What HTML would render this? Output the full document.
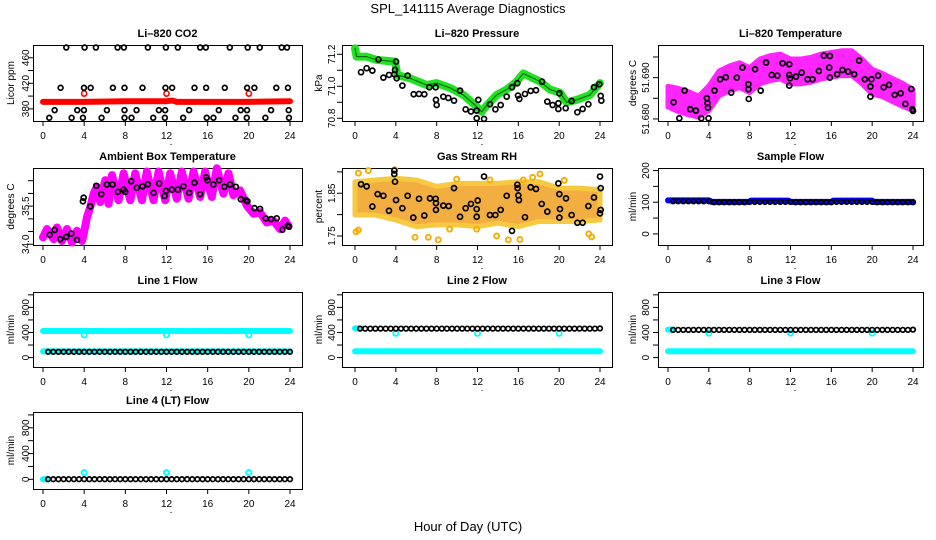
<!DOCTYPE html>
<html><head><meta charset="utf-8">
<style>
html,body{margin:0;padding:0;background:#fff;}
svg{display:block;font-family:"Liberation Sans",Arial,sans-serif;}
</style></head>
<body>
<svg id="chart" width="936" height="540" viewBox="0 0 936 540" xmlns="http://www.w3.org/2000/svg">
<rect x="0" y="0" width="936" height="540" fill="#fff"/>
<text x="468" y="13" text-anchor="middle" font-size="13">SPL_141115  Average Diagnostics</text>
<text x="468" y="531" text-anchor="middle" font-size="13">Hour of Day (UTC)</text>
</svg>
<script>
// ---------- data ----------
const xTicks = [0,4,8,12,16,20,24];

// CO2
const co2BandHours = [0,4,8,12,12.6,13,16,20,24];
const co2BandVals  = [391,391,392,392,393,391,391,391,392];
const co2RedHours = [4,12,20];
const co2RedVals  = [404,404,404];
const co2BlackHours = [2.26,4.04,5.14,7.25,7.86,10.19,11.94,13.1,15.27,15.82,18.15,19.89,21.06,23.19,23.71,
  1.71,3.98,4.63,6.79,7.92,9.67,11.9,12.55,14.72,15.85,17.66,19.83,20.54,22.67,23.8,
  1.13,3.33,3.98,6.21,7.92,9.09,11.26,11.87,14.2,17.08,19.21,19.83,22.16,23.87,
  0.61,2.78,3.88,5.69,7.92,8.6,10.71,11.84,13.62,15.91,16.56,18.7,19.8,21.61,23.9];
const co2BlackVals = [476,476,476,476,476,476,476,476,476,476,476,476,476,476,476,
  413,413,413,413,413,413,413,413,413,413,413,413,413,413,413,
  378,378,378,378,378,378,378,378,378,378,378,378,378,378,
  366,366,366,366,366,366,366,366,366,366,366,366,366,366,366];
const co2Ticks = [380,400,420,440,460];
const co2Labels = [380,420,460];

// Pressure
const presBandHours = [0,0.16,1.14,2.12,3.92,4.15,5.39,7.02,8.0,9.31,10.61,11.92,12.41,12.9,13.88,14.86,15.84,16.49,17.14,18.12,19.1,20.08,20.73,21.71,23.02,24];
const presBandVals  = [71.237,71.185,71.185,71.165,71.154,71.07,71.05,71.008,71.02,70.99,70.946,70.873,70.84,70.88,70.946,70.98,71.03,71.08,71.06,71.03,70.98,70.96,70.9,70.915,70.946,71.02];
const presBlackHours = [0.59,1.14,1.70,2.29,2.78,3.33,3.85,4.02,3.92,4.08,4.64,5.16,5.75,6.27,6.79,7.28,7.9,7.93,8.0,8.65,9.14,9.7,10.29,10.84,11.36,11.92,11.92,12.08,12.64,13.22,13.75,14.27,14.86,15.38,15.9,15.97,16.1,16.65,17.21,17.73,18.32,18.84,19.36,19.92,20.02,19.92,20.64,21.22,21.78,22.3,22.86,23.41,23.93,24.07,24.13];
const presBlackVals = [71.088,71.113,71.098,71.167,71.054,71.071,71.075,71.154,71.102,71.05,71.004,71.067,70.95,70.952,70.95,70.994,70.994,70.915,70.883,70.935,70.927,70.91,70.973,70.856,70.842,70.848,70.8,70.915,70.796,70.888,70.856,70.883,70.935,70.994,71.019,70.942,70.921,70.952,70.971,70.975,71.029,70.904,70.883,70.894,70.956,70.858,70.863,70.908,70.838,70.858,70.888,70.994,71.013,70.94,70.91];
const presTicks = [70.8,70.9,71.0,71.1,71.2];
const presLabels = ["70.8","71.0","71.2"];

// Li-820 temperature
const tempMagHours = [0,1,2,3,4,5,6,7,8,9,10,11,12,13,14,15,16,17,18,19,20,21,22,23,24];
const tempMagMid = [51.6854,51.6846,51.6838,51.683,51.685,51.6886,51.6898,51.6906,51.6894,51.6915,51.6923,51.6927,51.6915,51.6915,51.6919,51.6927,51.6931,51.6935,51.6935,51.6915,51.689,51.6882,51.687,51.6858,51.6846];
const tempMagSpread = [0.0025,0.0028,0.0028,0.0025,0.003,0.003,0.003,0.003,0.003,0.003,0.003,0.003,0.003,0.003,0.003,0.003,0.003,0.003,0.003,0.003,0.003,0.0028,0.0028,0.0028,0.0025];
const tempBlackHours = [0.55,1.63,1.11,2.18,2.73,3.26,3.81,3.87,3.91,3.97,4.56,5.11,5.67,6.19,6.74,7.29,7.88,7.88,7.91,8.53,9.08,9.61,10.16,10.71,11.23,11.88,11.88,11.95,11.88,12.54,13.09,13.68,14.16,14.78,15.27,15.86,15.79,15.86,16.57,17.09,17.65,18.24,18.72,19.28,19.83,19.93,19.83,20.58,21.13,21.65,22.21,22.79,23.25,23.83,23.93,24.0];
const tempBlackVals = [51.68403,51.68685,51.68016,51.68234,51.68202,51.68016,51.6850,51.68379,51.68274,51.68016,51.68685,51.6896,51.69008,51.68637,51.69,51.69242,51.68839,51.68718,51.68484,51.69202,51.68685,51.69363,51.69065,51.69048,51.69347,51.69323,51.69065,51.68984,51.68806,51.69024,51.69121,51.6896,51.6896,51.69161,51.69532,51.69524,51.69242,51.69,51.69081,51.69185,51.69145,51.69081,51.69411,51.6896,51.68782,51.6896,51.6854,51.69048,51.68766,51.68823,51.68581,51.68621,51.68363,51.68726,51.68234,51.68194];
const tempTicks = [51.680,51.685,51.690,51.695];
const tempLabels = ["51.680","51.690"];

// Ambient box temperature
const ambMagHours = [0,0.39,1.04,1.36,1.84,2.33,2.81,3.30,3.79,3.95,4.27,4.59,4.92,5.24,5.56,6.05,6.37,6.70,7.34,7.83,8.48,8.96,9.61,10.09,10.74,11.23,11.87,12.36,13.0,13.49,14.14,14.62,15.27,15.75,16.40,16.89,17.53,18.02,18.50,19.15,19.80,20.45,21.09,21.74,22.39,23.03,23.52,23.84];
const ambMagVals = [34.27,34.60,34.20,34.66,34.13,34.60,34.07,34.53,34.13,34.40,35.06,35.46,35.99,36.26,35.66,36.52,35.59,36.72,35.73,36.79,35.73,36.79,35.73,36.86,35.73,36.86,35.73,36.79,35.79,36.86,35.79,36.86,35.86,36.86,35.86,36.99,35.99,36.79,35.93,36.12,35.53,35.20,35.26,34.86,34.93,34.60,34.93,34.73];
const ambBlackHours = [0.65,1.13,1.68,2.26,2.75,3.30,3.88,3.95,4.59,5.18,5.66,6.21,6.76,7.28,7.83,7.99,8.57,9.12,9.67,10.19,10.74,11.29,11.81,11.94,12.52,13.10,13.65,14.2,14.72,15.27,15.85,15.98,16.56,17.11,17.63,18.18,18.73,19.22,19.73,19.86,20.54,21.09,21.64,22.16,22.71,23.26,23.78,23.91];
const ambBlackVals = [34.37,34.56,34.20,34.29,34.42,34.17,35.69,35.83,35.49,36.30,35.97,36.35,36.35,36.06,36.15,36.06,36.48,36.22,36.28,36.36,36.02,36.39,35.90,36.10,36.15,36.15,36.28,36.02,36.42,35.97,36.63,36.52,36.35,36.52,36.26,36.35,36.26,35.77,35.73,35.69,35.42,35.39,35.02,34.99,35.02,34.57,34.73,34.69];
const ambTicks = [34.0,34.5,35.0,35.5,36.0,36.5];
const ambLabels = ["34.0","35.5"];

// Gas stream RH
const rhBandHours = [0,2,4,6,8,10,12,14,16,18,20,22,24];
const rhBandTop = [1.877,1.881,1.885,1.881,1.866,1.873,1.873,1.873,1.877,1.877,1.862,1.862,1.858];
const rhBandBot = [1.799,1.799,1.7875,1.772,1.776,1.776,1.772,1.780,1.772,1.784,1.784,1.784,1.7875];
const rhScatterHours = [0.33,0.33,1.31,9.96,5.88,7.18,8.16,13.22,13.88,15.02,16.16,17.4,18.12,23.18,16.49,9.27,11.92,0.1,3.9,22.9,20.5];
const rhScatterVals = [1.897,1.764,1.903,1.883,1.747,1.747,1.741,1.881,1.75,1.741,1.742,1.887,1.895,1.748,1.881,1.766,1.766,1.76,1.905,1.755,1.88];
const rhBlackHours = [0.59,1.14,1.70,2.22,2.78,3.33,3.85,3.85,3.92,4.02,4.64,5.16,5.71,6.27,6.79,7.35,7.9,7.93,7.93,8.65,9.18,9.7,10.29,10.84,11.36,11.92,11.92,12.02,12.64,13.22,13.75,14.27,14.86,15.38,15.9,15.93,16.0,16.06,16.65,17.21,17.73,18.29,18.84,19.92,20.02,20.08,20.02,20.67,21.22,21.78,22.3,22.86,23.41,24.0,24.07,24.07,24.0];
const rhBlackVals = [1.871,1.866,1.819,1.848,1.844,1.809,1.903,1.895,1.877,1.834,1.815,1.844,1.793,1.837,1.798,1.838,1.837,1.827,1.811,1.821,1.820,1.862,1.795,1.815,1.825,1.813,1.795,1.833,1.889,1.799,1.799,1.811,1.844,1.762,1.870,1.862,1.845,1.834,1.794,1.864,1.860,1.825,1.807,1.873,1.848,1.813,1.793,1.838,1.799,1.781,1.781,1.820,1.840,1.889,1.862,1.811,1.803];
const rhTicks = [1.75,1.80,1.85,1.90];
const rhLabels = ["1.75","1.85"];

// Sample flow
const sfBandHours = [0,4,4.3,8,8.1,11.8,12,16,16.2,20,20.2,24];
const sfBandVals  = [106,106,101,101,105,105,101,101,105,105,101,101];
const flowHours = [0.5,1,1.5,2,2.5,3,3.5,4,4.5,5,5.5,6,6.5,7,7.5,8,8.5,9,9.5,10,10.5,11,11.5,12,12.5,13,13.5,14,14.5,15,15.5,16,16.5,17,17.5,18,18.5,19,19.5,20,20.5,21,21.5,22,22.5,23,23.5,24];
const sfBlackVals = [103,103,103,103,103,103,103,103,100,100,100,100,100,100,100,101,101,101,101,101,101,101,101,101,100,100,100,100,100,100,100,100,101,101,101,101,101,101,101,101,100,100,100,100,100,100,100,100];
const sfTicks = [0,50,100,150,200];
const sfLabels = [0,100,200];

// Line flows
const flowTicks = [0,200,400,600,800,1000];
const flowLabels = [0,400,800];
const l1CyanHours = [0,24];
const l1CyanHigh = [423,423];
const l1CyanLow = [98,98];
const l1DipHours = [4,12,20];
const l1DipVals = [361,361,361];
const l1BlackVals = [92,92,92,92,92,92,92,92,92,92,92,92,92,92,92,92,92,92,92,92,92,92,92,92,92,92,92,92,92,92,92,92,92,92,92,92,92,92,92,92,92,92,92,92,92,92,92,92];

const l2CyanLowHours = [0,24];
const l2CyanLow = [100,100];
const l2CyanHighHours = [0,0.5];
const l2CyanHigh = [465,465];
const l2DipHours = [4,12,20];
const l2DipVals = [387,387,387];
const l2BlackVals = [462,462,462,462,462,462,462,462,462,462,462,462,462,462,462,462,462,462,462,462,462,462,462,462,462,462,462,462,462,462,462,462,462,462,462,462,462,462,462,462,462,462,462,462,462,462,462,465];

const l3CyanLowHours = [0,24];
const l3CyanLow = [100,100];
const l3CyanHighHours = [0,0.5];
const l3CyanHigh = [445,445];
const l3DipHours = [4,12,20];
const l3DipVals = [390,390,390];
const l3BlackVals = [442,442,442,442,442,442,442,442,442,442,442,442,442,442,442,442,442,442,442,442,442,442,442,442,442,442,442,442,442,442,442,442,442,442,442,442,442,442,442,442,442,442,442,442,442,442,442,445];

const l4CyanHours = [0,0.3];
const l4CyanVals = [2,2];
const l4BumpHours = [4,12,20];
const l4BumpVals = [105,105,105];
const l4BlackVals = [2,2,2,2,2,2,2,2,2,2,2,2,2,2,2,2,2,2,2,2,2,2,2,2,2,2,2,2,2,2,2,2,2,2,2,2,2,2,2,2,2,2,2,2,2,2,2,2];

// ---------- drawing ----------
const NS = "http://www.w3.org/2000/svg";
const svg = document.getElementById("chart");
const colBox = [[33,302,43,290],[342,612,355,600],[658,923,668,913]];
const rowBox = [[45,121],[168,245],[292,367],[412,489]];
const yLabX = [[10,25],[318,331],[632,645]];

function mk(tag, parent){ const e=document.createElementNS(NS,tag); (parent||svg).appendChild(e); return e; }

function panel(name, col, row, title, ylab, ymin, ymax, ticks, labels){
  const [bl,br,x0,x24] = colBox[col];
  const [bt,bb] = rowBox[row];
  const g = mk("g");
  
  
  const X = h => x0 + (h/24)*(x24-x0);
  const Y = v => bb - (v-ymin)/(ymax-ymin)*(bb-bt);
  const p = {g, X, Y, bl, br, bt, bb, name};
  const box = mk("rect", g);
  
  
  box.setAttribute("x", bl+0.5); box.setAttribute("y", bt+0.5);
  box.setAttribute("width", br-bl); box.setAttribute("height", bb-bt);
  box.setAttribute("fill","none"); box.setAttribute("stroke","#000");
  const t = mk("text", g);
  
  
  t.setAttribute("x",(bl+br)/2); t.setAttribute("y",bt-8);
  t.setAttribute("text-anchor","middle"); t.setAttribute("font-size","11"); t.setAttribute("font-weight","bold");
  t.textContent = title;
  const xa = mk("line", g);
  
  
  xa.setAttribute("x1",X(0)); xa.setAttribute("x2",X(24)); xa.setAttribute("y1",bb+0.5); xa.setAttribute("y2",bb+0.5); xa.setAttribute("stroke","#000");
  xTicks.forEach(h=>{
    const tk = mk("line", g);
    
    
    tk.setAttribute("x1",X(h)); tk.setAttribute("x2",X(h)); tk.setAttribute("y1",bb); tk.setAttribute("y2",bb+5); tk.setAttribute("stroke","#000");
    const tl = mk("text", g);
    
    
    tl.setAttribute("x",X(h)); tl.setAttribute("y",bb+18); tl.setAttribute("text-anchor","middle"); tl.setAttribute("font-size","10");
    tl.textContent = h;
  });
  const dot = mk("rect", g);
  
  
  dot.setAttribute("x",(X(0)+X(24))/2+4); dot.setAttribute("y",bb+23); dot.setAttribute("width",1); dot.setAttribute("height",1); dot.setAttribute("fill","#000");
  const ya = mk("line", g);
  
  
  ya.setAttribute("x1",bl+0.5); ya.setAttribute("x2",bl+0.5); ya.setAttribute("y1",Y(ticks[0])); ya.setAttribute("y2",Y(ticks[ticks.length-1])); ya.setAttribute("stroke","#000");
  ticks.forEach(v=>{
    const tk = mk("line", g);
    
    
    tk.setAttribute("x1",bl-5); tk.setAttribute("x2",bl); tk.setAttribute("y1",Y(v)); tk.setAttribute("y2",Y(v)); tk.setAttribute("stroke","#000");
  });
  labels.forEach(v=>{
    const tl = mk("text", g);
    
    
    const yy = Y(parseFloat(v)), xx = yLabX[col][1]+4;
    tl.setAttribute("transform","translate("+xx+","+yy+") rotate(-90)");
    tl.setAttribute("text-anchor","middle"); tl.setAttribute("font-size","10");
    tl.textContent = v;
  });
  const yl = mk("text", g);
  
  
  yl.setAttribute("transform","translate("+(yLabX[col][0]+4)+","+((bt+bb)/2)+") rotate(-90)");
  yl.setAttribute("text-anchor","middle"); yl.setAttribute("font-size","10");
  yl.textContent = ylab;
  return p;
}

function band(p, hours, vals, color, w, nm){
  const pl = mk("polyline", p.g);
  
  
  pl.setAttribute("points", hours.map((h,i)=>p.X(h)+","+p.Y(vals[i])).join(" "));
  pl.setAttribute("fill","none"); pl.setAttribute("stroke",color); pl.setAttribute("stroke-width",w);
  pl.setAttribute("stroke-linejoin","round"); pl.setAttribute("stroke-linecap","round");
}
function area(p, hours, top, bot, fill, stroke, nm, op){
  const pts = hours.map((h,i)=>p.X(h)+","+p.Y(top[i]));
  for(let i=hours.length-1;i>=0;i--) pts.push(p.X(hours[i])+","+p.Y(bot[i]));
  const pg = mk("polygon", p.g);
  
  
  pg.setAttribute("points", pts.join(" "));
  pg.setAttribute("fill",fill); pg.setAttribute("stroke",stroke); pg.setAttribute("stroke-width",5); pg.setAttribute("stroke-linejoin","round");
  pg.setAttribute("opacity", op||1);
}
function pts(p, hours, vals, color, r, sw, nm, fill){
  hours.forEach((h,i)=>{
    const c = mk("circle", p.g);
    
    
    c.setAttribute("cx",p.X(h)); c.setAttribute("cy",p.Y(vals[i])); c.setAttribute("r",r);
    c.setAttribute("fill",fill||"none"); c.setAttribute("stroke",color); c.setAttribute("stroke-width",sw);
  });
}

let p = panel("co2-panel",0,0,"Li\u2013820 CO2","Licor ppm",361,480,co2Ticks,co2Labels);
band(p, co2BandHours, co2BandVals, "#ff0000", 6, "co2-red-series");
pts(p, co2RedHours, co2RedVals, "#ff0000", 2.6, 1.6, "co2-red-point");
pts(p, co2BlackHours, co2BlackVals, "#000", 2.4, 1.7, "co2-black-point");

p = panel("pressure-panel",1,0,"Li\u2013820 Pressure","kPa",70.783,71.258,presTicks,presLabels);
band(p, presBandHours, presBandVals, "#22e022", 8, "pressure-green-series");
band(p, presBandHours, presBandVals, "#0a5a0a", 1, "pressure-green-series-core");
pts(p, presBlackHours, presBlackVals, "#000", 2.5, 1.7, "pressure-black-point");

p = panel("li820-temperature-panel",2,0,"Li\u2013820 Temperature","degrees C",51.6795,51.6979,tempTicks,tempLabels);
area(p, tempMagHours, tempMagMid.map((m,i)=>m+tempMagSpread[i]), tempMagMid.map((m,i)=>m-tempMagSpread[i]), "#ff00ff", "#ff00ff", "temperature-magenta-series", 0.85);
pts(p, tempBlackHours, tempBlackVals, "#000", 2.5, 1.7, "temperature-black-point");

p = panel("ambient-temperature-panel",0,1,"Ambient Box Temperature","degrees C",33.97,37.0,ambTicks,ambLabels);
band(p, ambMagHours, ambMagVals, "#ff00ff", 8, "ambient-magenta-series");
pts(p, ambBlackHours, ambBlackVals, "#000", 2.5, 1.7, "ambient-black-point");

p = panel("rh-panel",1,1,"Gas Stream RH","percent",1.729,1.909,rhTicks,rhLabels);
area(p, rhBandHours, rhBandTop, rhBandBot, "#f0a020", "#f6c020", "rh-orange-series", 0.85);
pts(p, rhScatterHours, rhScatterVals, "#f2b010", 2.5, 2, "rh-orange-point");
pts(p, rhBlackHours, rhBlackVals, "#000", 2.5, 1.7, "rh-black-point");

p = panel("sample-flow-panel",2,1,"Sample Flow","ml/min",-35,208,sfTicks,sfLabels);
band(p, sfBandHours, sfBandVals, "#0000ff", 6, "sample-flow-blue-series");
pts(p, flowHours, sfBlackVals, "#000", 2.3, 1.7, "sample-flow-black-point");

p = panel("line1-flow-panel",0,2,"Line 1 Flow","ml/min",-150,1045,flowTicks,flowLabels);
band(p, l1CyanHours, l1CyanHigh, "#00ffff", 6, "line1-cyan-high-series");
band(p, l1CyanHours, l1CyanLow, "#00ffff", 6, "line1-cyan-low-series");
pts(p, l1DipHours, l1DipVals, "#00ffff", 2.6, 1.8, "line1-cyan-dip-point");
pts(p, flowHours, l1BlackVals, "#000", 2.3, 1.7, "line1-black-point");

p = panel("line2-flow-panel",1,2,"Line 2 Flow","ml/min",-150,1045,flowTicks,flowLabels);
band(p, l2CyanLowHours, l2CyanLow, "#00ffff", 6, "line2-cyan-low-series");
band(p, l2CyanHighHours, l2CyanHigh, "#00ffff", 6, "line2-cyan-high-series");
pts(p, l2DipHours, l2DipVals, "#00ffff", 2.6, 1.8, "line2-cyan-dip-point");
pts(p, flowHours, l2BlackVals, "#000", 2.3, 1.7, "line2-black-point");

p = panel("line3-flow-panel",2,2,"Line 3 Flow","ml/min",-150,1045,flowTicks,flowLabels);
band(p, l3CyanLowHours, l3CyanLow, "#00ffff", 6, "line3-cyan-low-series");
band(p, l3CyanHighHours, l3CyanHigh, "#00ffff", 6, "line3-cyan-high-series");
pts(p, l3DipHours, l3DipVals, "#00ffff", 2.6, 1.8, "line3-cyan-dip-point");
pts(p, flowHours, l3BlackVals, "#000", 2.3, 1.7, "line3-black-point");

p = panel("line4-flow-panel",0,3,"Line 4 (LT) Flow","ml/min",-150,1045,flowTicks,flowLabels);
band(p, l4CyanHours, l4CyanVals, "#00ffff", 6, "line4-cyan-series");
pts(p, l4BumpHours, l4BumpVals, "#00ffff", 2.6, 1.8, "line4-cyan-bump-point");
pts(p, flowHours, l4BlackVals, "#000", 2.3, 1.7, "line4-black-point");
</script>
</body></html>
